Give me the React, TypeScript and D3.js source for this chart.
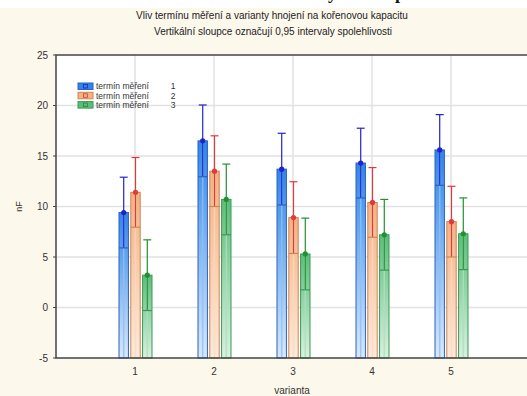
import React from "react";
import * as d3 from "d3";

// data
const categories = [1, 2, 3, 4, 5];
const series = ["1", "2", "3"];
const means1 = [9.4, 16.5, 13.7, 14.3, 15.6];
const means2 = [11.4, 13.5, 8.9, 10.4, 8.5];
const means3 = [3.2, 10.7, 5.3, 7.2, 7.3];
const ci1 = [3.5, 3.55, 3.55, 3.45, 3.5];
const ci2 = [3.45, 3.5, 3.55, 3.45, 3.5];
const ci3 = [3.5, 3.5, 3.55, 3.5, 3.55];
const yTicks = [-5, 0, 5, 10, 15, 20, 25];

const W = 527;
const H = 396;

const palette = [
  { top: "#2f86e8", bottom: "#d9e9fb", stroke: "#2a62c4", err: "#2222cc", stripe: "#8fc0f4" },
  { top: "#f4b283", bottom: "#fdebdd", stroke: "#cf8552", err: "#e03a3a", stripe: "#fbd9bf" },
  { top: "#5cbd7c", bottom: "#d9f1e0", stroke: "#3a9a55", err: "#23902f", stripe: "#aee0bd" },
];

const App = () => {
  const x = d3.scaleLinear().domain([0, 6]).range([56, 530]);
  const y = d3.scaleLinear().domain([-5, 25]).range([358, 55]);
  const offset = d3.scaleBand().domain(series).range([-16, 17]).paddingInner(0.2);
  const bw = offset.bandwidth();
  const means = [means1, means2, means3];
  const cis = [ci1, ci2, ci3];
  const font = "'Liberation Sans', Arial, sans-serif";

  return (
    <svg width={W} height={H} style={{ position: "absolute", left: 0, top: 0 }} fontFamily={font}>
      <defs>
        {palette.map((p, i) => (
          <linearGradient key={i} id={`g${i}`} x1="0" y1="0" x2="0" y2="1">
            <stop offset="0%" stopColor={p.top} />
            <stop offset="100%" stopColor={p.bottom} />
          </linearGradient>
        ))}
      </defs>
      <rect x={0} y={0} width={W} height={H} fill="#ffffff" />
      <rect x={0} y={8} width={W} height={H - 8} fill="#fdf8ec" />
      {/* cut-off line of the page above */}
      <text x={328} y={-1} fontFamily="'Liberation Serif', serif" fontWeight="bold" fontSize={18} fill="#111">y</text>
      <text x={395} y={-1} fontFamily="'Liberation Serif', serif" fontWeight="bold" fontSize={18} fill="#111">p</text>

      <text x={272} y={19} textAnchor="middle" fontSize={10} fill="#222">
        Vliv termínu měření a varianty hnojení na kořenovou kapacitu
      </text>
      <text x={273} y={35} textAnchor="middle" fontSize={10} fill="#222">
        Vertikální sloupce označují 0,95 intervaly spolehlivosti
      </text>

      {/* plot area */}
      <rect x={x(0)} y={y(25)} width={W - x(0)} height={y(-5) - y(25)} fill="#ffffff" />
      {yTicks.slice(1, -1).map((t) => (
        <line key={t} x1={x(0)} x2={W} y1={y(t)} y2={y(t)} stroke="#e2e2e2" strokeWidth={1.5} />
      ))}
      {categories.map((c) => (
        <line key={c} x1={x(c)} x2={x(c)} y1={y(25)} y2={y(-5)} stroke="#e2e2e2" strokeWidth={1.5} />
      ))}

      {/* bars */}
      {categories.map((c, ci) =>
        series.map((s, si) => {
          const m = means[si][ci];
          const e = cis[si][ci];
          const p = palette[si];
          const x0 = x(c) + (offset(s) as number);
          const cx = x0 + bw / 2;
          return (
            <g key={`${c}-${s}`}>
              <rect x={x0} y={y(m)} width={bw} height={y(-5) - y(m)} fill={`url(#g${si})`} stroke={p.stroke} strokeWidth={1} />
              <line x1={cx} x2={cx} y1={y(m) + 2} y2={y(-5) - 1} stroke={p.stripe} strokeWidth={1.5} opacity={0.8} />
              <line x1={cx} x2={cx} y1={y(m + e)} y2={y(m - e)} stroke={p.err} strokeWidth={1.2} />
              <line x1={cx - 4} x2={cx + 4} y1={y(m + e)} y2={y(m + e)} stroke={p.err} strokeWidth={1.2} />
              <line x1={x0} x2={x0 + bw} y1={y(m - e)} y2={y(m - e)} stroke={p.stroke} strokeWidth={1.2} />
              <circle cx={cx} cy={y(m)} r={2.6} fill={p.err} />
            </g>
          );
        })
      )}

      {/* frame */}
      <path d={`M${W},${y(25)}H${x(0)}V${y(-5)}H${W}`} fill="none" stroke="#444" strokeWidth={1.5} />

      {/* y axis */}
      {yTicks.map((t) => (
        <g key={t}>
          <line x1={x(0) - 3} x2={x(0)} y1={y(t)} y2={y(t)} stroke="#444" />
          <text x={48} y={y(t)} dy="0.35em" textAnchor="end" fontSize={10} fill="#333">
            {t}
          </text>
        </g>
      ))}
      <text transform={`translate(22,${y(10)}) rotate(-90)`} textAnchor="middle" fontSize={9} fill="#333">
        nF
      </text>

      {/* x axis */}
      {categories.map((c) => (
        <text key={c} x={x(c)} y={375} textAnchor="middle" fontSize={10} fill="#333">
          {c}
        </text>
      ))}
      <text x={292} y={394} textAnchor="middle" fontSize={10} fill="#333">
        varianta
      </text>

      {/* legend */}
      {series.map((s, i) => (
        <g key={s} transform={`translate(78,${83 + i * 9.3})`}>
          <rect x={0} y={0} width={15} height={6.5} fill={palette[i].top} stroke={palette[i].stroke} />
          <rect x={5.5} y={1.5} width={4} height={3.5} fill="none" stroke={palette[i].err} strokeWidth={0.8} />
          <text x={18} y={3.3} dy="0.35em" fontSize={8.5} fill="#333">
            termín měření
          </text>
          <text x={95} y={3.3} dy="0.35em" textAnchor="middle" fontSize={8.5} fill="#333">
            {s}
          </text>
        </g>
      ))}
    </svg>
  );
};

export default App;
